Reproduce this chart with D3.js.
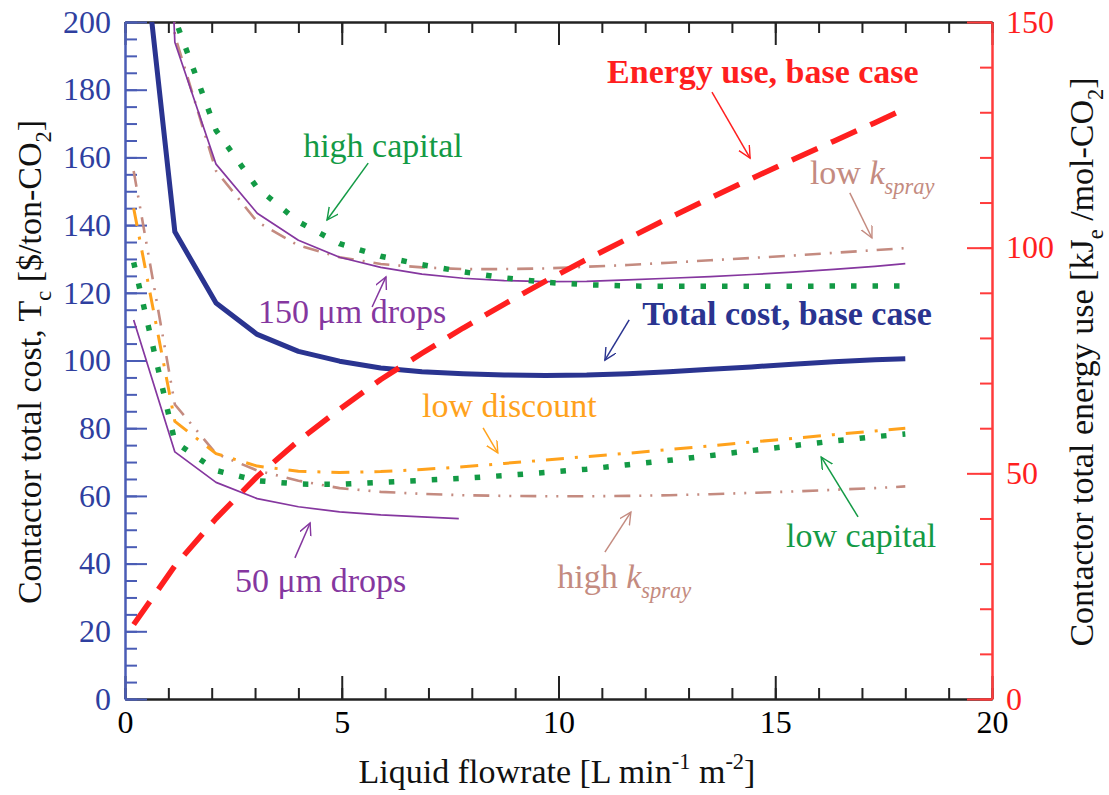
<!DOCTYPE html>
<html>
<head>
<meta charset="utf-8">
<script src="https://cdn.jsdelivr.net/npm/d3@7"></script>
<style>
  body { margin: 0; background: #fff; }
  svg text { font-family: "Liberation Serif", "Tinos", "DejaVu Serif", "Noto Serif", "Times New Roman", serif !important; white-space: pre; }
</style>
</head>
<body>
<script>
// ************** data *************************************
// liquid flowrate grid [L min-1 m-2]
var flow = [0.2, 1.15, 2.1, 3.05, 4.0, 4.95, 5.9, 6.85, 7.8, 8.75, 9.7, 10.65, 11.6, 12.55, 13.5, 14.45, 15.4, 16.35, 17.3, 18.0];
var flowSmall = [0.2, 1.15, 2.1, 3.05, 4.0, 4.95, 5.9, 6.85, 7.7];

// total cost [$/ton-CO2]
var baseCost    = [249, 138, 117, 107.7, 102.7, 99.8, 97.8, 96.7, 96.1, 95.7, 95.6, 95.7, 96.1, 96.7, 97.4, 98.1, 98.9, 99.6, 100.2, 100.5];
var drops150    = [480, 194, 158, 143.5, 135.5, 130.5, 127.5, 125.5, 124.3, 123.6, 123.3, 123.4, 123.8, 124.3, 124.8, 125.4, 126.1, 126.9, 127.8, 128.6];
var lowKspray   = [470, 196, 156, 141, 134, 130.5, 128.5, 127.5, 127, 127, 127.2, 127.7, 128.2, 128.9, 129.6, 130.3, 131, 131.8, 132.6, 133.2];
var highCapital = [490, 201, 168, 151, 141, 134.5, 130.8, 128.3, 126.2, 124.4, 123.1, 122.4, 122, 121.9, 121.9, 121.9, 121.9, 122, 122, 122];
var lowDiscount = [145, 82, 72.5, 68.8, 67.3, 66.9, 67.2, 67.8, 68.6, 69.6, 70.6, 71.6, 72.6, 73.7, 74.8, 75.9, 77, 78.1, 79.2, 80];
var lowCapital  = [129, 76, 67.5, 64.5, 63.5, 63.4, 64, 64.6, 65.2, 66, 66.9, 67.9, 69.2, 70.5, 71.9, 73.4, 74.8, 76.2, 77.5, 78.3];
var highKspray  = [156, 87, 72.5, 67.5, 64.5, 62.3, 61.2, 60.6, 60.2, 60, 59.9, 59.9, 60, 60.2, 60.5, 60.9, 61.3, 61.8, 62.3, 62.8];
var drops50     = [112, 73, 64, 59.2, 56.8, 55.3, 54.4, 53.8, 53.3];

// energy use [kJe/mol-CO2], right axis
var energy = [16.5, 29.5, 40, 49.3, 57.2, 64.2, 70.8, 76.6, 82.2, 87.5, 92.6, 97.4, 102, 106.6, 111, 115.3, 119.5, 123.6, 127.7, 130.8];

// axis ticks
var xTicks = [0, 5, 10, 15, 20];
var leftTicks = [0, 20, 40, 60, 80, 100, 120, 140, 160, 180, 200];
var rightTicks = [0, 50, 100, 150];

// ************** chart *****************
var W = 1109, H = 795;
var box = {left: 125, right: 992, top: 22, bottom: 699};
var SERIF = '"Liberation Serif", "Tinos", "DejaVu Serif", "Noto Serif", "Times New Roman", serif';

var x = d3.scaleLinear().domain([0, 20]).range([box.left, box.right]);
var yL = d3.scaleLinear().domain([0, 200]).range([box.bottom, box.top]);
var yR = d3.scaleLinear().domain([0, 150]).range([box.bottom, box.top]);

var svg = d3.select("body").append("svg")
    .attr("width", W)
    .attr("height", H)
    .attr("font-family", SERIF);

svg.append("defs").append("clipPath").attr("id", "plot")
  .append("rect")
    .attr("x", box.left).attr("y", box.top)
    .attr("width", box.right - box.left)
    .attr("height", box.bottom - box.top);

var FS = 32;      // tick labels
var TITLE = 34;   // axis titles
var NOTE = 34;    // annotations
var BLUE = "#2a3490", RED = "#ff1f1f", PURPLE = "#85379f",
    GREEN = "#139a45", ORANGE = "#ffa21c", ROSY = "#c48b80";

// style the axis groups
function styleAxis(g, color, labelColor) {
  g.attr("font-family", SERIF).attr("font-size", FS);
  g.select(".domain").attr("stroke", color).attr("stroke-width", 2);
  g.selectAll(".tick line").attr("stroke", color).attr("stroke-width", 2);
  g.selectAll(".tick text").attr("fill", labelColor);
}

// bottom + top axes (black, inward ticks)
var gxMinor = svg.append("g")
    .attr("transform", "translate(0," + box.bottom + ")")
    .call(d3.axisBottom(x).ticks(20).tickSize(-11).tickSizeOuter(0).tickFormat(""));
styleAxis(gxMinor, "#222", "#000");
var gx = svg.append("g")
    .attr("transform", "translate(0," + box.bottom + ")")
    .call(d3.axisBottom(x).tickValues(xTicks).tickSize(-23).tickSizeOuter(0).tickPadding(11));
styleAxis(gx, "#222", "#000");

var gtMinor = svg.append("g")
    .attr("transform", "translate(0," + box.top + ")")
    .call(d3.axisTop(x).ticks(20).tickSize(-11).tickSizeOuter(0).tickFormat(""));
styleAxis(gtMinor, "#222", "#000");
var gt = svg.append("g")
    .attr("transform", "translate(0," + box.top + ")")
    .call(d3.axisTop(x).tickValues(xTicks).tickSize(-23).tickSizeOuter(0).tickFormat(""));
styleAxis(gt, "#222", "#000");

// left axis (blue)
var glMinor = svg.append("g")
    .attr("transform", "translate(" + box.left + ",0)")
    .call(d3.axisLeft(yL).ticks(40).tickSize(-12).tickSizeOuter(0).tickFormat(""));
styleAxis(glMinor, "#4a5cb5", BLUE);
var gl = svg.append("g")
    .attr("transform", "translate(" + box.left + ",0)")
    .call(d3.axisLeft(yL).tickValues(leftTicks).tickSize(-22).tickSizeOuter(0).tickPadding(14));
styleAxis(gl, "#4a5cb5", "#2f3f9f");

// right axis (red)
var grMinor = svg.append("g")
    .attr("transform", "translate(" + box.right + ",0)")
    .call(d3.axisRight(yR).ticks(15).tickSize(-12).tickSizeOuter(0).tickFormat(""));
styleAxis(grMinor, "#ff3b3b", RED);
var gr = svg.append("g")
    .attr("transform", "translate(" + box.right + ",0)")
    .call(d3.axisRight(yR).tickValues(rightTicks).tickSize(-25).tickSizeOuter(0).tickPadding(14));
styleAxis(gr, "#ff3b3b", RED);

// ************** series *****************
var series = [
  {xs: flow, ys: highKspray, color: ROSY, width: 2.6, dash: "16,9,2,9,2,9", scale: yL},
  {xs: flow, ys: lowKspray, color: ROSY, width: 2.6, dash: "16,9,2,9", scale: yL},
  {xs: flow, ys: drops150, color: PURPLE, width: 1.7, dash: null, scale: yL},
  {xs: flowSmall, ys: drops50, color: PURPLE, width: 1.7, dash: null, scale: yL},
  {xs: flow, ys: lowDiscount, color: ORANGE, width: 3, dash: "18,11,3,11", scale: yL},
  {xs: flow, ys: highCapital, color: GREEN, width: 5.5, dash: "5.5,16", scale: yL},
  {xs: flow, ys: lowCapital, color: GREEN, width: 5.5, dash: "5.5,16", scale: yL},
  {xs: flow, ys: baseCost, color: BLUE, width: 5, dash: null, scale: yL},
  {xs: flow, ys: energy, color: RED, width: 5.5, dash: "28,15", scale: yR}
];

var plot = svg.append("g").attr("clip-path", "url(#plot)");

series.forEach(function(s) {
  var line = d3.line()
      .x(function(d, i) { return x(s.xs[i]); })
      .y(function(d) { return s.scale(d); });
  plot.append("path")
      .datum(s.ys)
      .attr("fill", "none")
      .attr("stroke", s.color)
      .attr("stroke-width", s.width)
      .attr("stroke-dasharray", s.dash)
      .attr("stroke-linejoin", "round")
      .attr("d", line);
});

// ************** text helpers *****************
function rich(textSel, parts, fs) {
  var off = 0;
  parts.forEach(function(p) {
    var target = p.sub ? fs * 0.3 : (p.sup ? -fs * 0.42 : 0);
    textSel.append("tspan")
        .attr("dy", target - off)
        .style("font-size", (p.sub || p.sup) ? (fs * 0.66) + "px" : fs + "px")
        .style("font-style", p.it ? "italic" : null)
        .text(p.t);
    off = target;
  });
}

// ************** annotations (data coordinates, left axis) *****************
var notes = [
  {parts: [{t: "Energy use, base case"}], x: 11.12, y: 182, color: RED, bold: true, arrow: [13.54, 179.3, 14.42, 159.8]},
  {parts: [{t: "low "}, {t: "k", it: true}, {t: "spray", it: true, sub: true}], x: 15.8, y: 152.1, color: ROSY, arrow: [16.72, 149.5, 17.23, 136.2]},
  {parts: [{t: "high capital"}], x: 4.11, y: 160.1, color: GREEN, arrow: [5.61, 158.3, 4.66, 141.5]},
  {parts: [{t: "150 \u03bcm drops"}], x: 3.07, y: 111.1, color: PURPLE, arrow: [5.7, 115.8, 6.02, 124.7]},
  {parts: [{t: "Total cost, base case"}], x: 11.93, y: 110.5, color: BLUE, bold: true, arrow: [11.63, 112, 11.07, 100.1]},
  {parts: [{t: "low discount"}], x: 6.85, y: 83.3, color: ORANGE, arrow: [8.26, 80.1, 8.6, 72.7]},
  {parts: [{t: "low capital"}], x: 15.25, y: 44.9, color: GREEN, arrow: [16.91, 53.8, 16.06, 71.5]},
  {parts: [{t: "high "}, {t: "k", it: true}, {t: "spray", it: true, sub: true}], x: 9.97, y: 32.8, color: ROSY, arrow: [11.07, 43.4, 11.67, 55.2]},
  {parts: [{t: "50 \u03bcm drops"}], x: 2.54, y: 31.6, color: PURPLE, arrow: [3.92, 41.7, 4.27, 52]}
];

var defs = svg.select("defs");
notes.forEach(function(n, i) {
  defs.append("marker")
      .attr("id", "arrow" + i)
      .attr("markerUnits", "userSpaceOnUse")
      .attr("markerWidth", 14).attr("markerHeight", 14)
      .attr("refX", 12).attr("refY", 6)
      .attr("orient", "auto")
    .append("path")
      .attr("d", "M0,0 L12,6 L0,12")
      .attr("fill", "none")
      .attr("stroke", n.color)
      .attr("stroke-width", 1.4);

  svg.append("line")
      .attr("x1", x(n.arrow[0])).attr("y1", yL(n.arrow[1]))
      .attr("x2", x(n.arrow[2])).attr("y2", yL(n.arrow[3]))
      .attr("stroke", n.color)
      .attr("stroke-width", 1.5)
      .attr("marker-end", "url(#arrow" + i + ")");

  var t = svg.append("text")
      .attr("x", x(n.x))
      .attr("y", yL(n.y))
      .attr("fill", n.color)
      .style("font-weight", n.bold ? "bold" : null);
  rich(t, n.parts, NOTE);
});

// ************** axis titles *****************
var xt = svg.append("text")
    .attr("x", 557).attr("y", 783)
    .attr("text-anchor", "middle")
    .attr("fill", "#111");
rich(xt, [{t: "Liquid flowrate [L min"}, {t: "-1", sup: true}, {t: " m"}, {t: "-2", sup: true}, {t: "]"}], TITLE);

var lt = svg.append("text")
    .attr("transform", "translate(41,362) rotate(-90)")
    .attr("text-anchor", "middle")
    .attr("fill", "#111");
rich(lt, [{t: "Contactor total cost, T"}, {t: "c", sub: true}, {t: " [$/ton-CO"}, {t: "2", sub: true}, {t: "]"}], TITLE);

var rt = svg.append("text")
    .attr("transform", "translate(1093,362) rotate(-90)")
    .attr("text-anchor", "middle")
    .attr("fill", "#111");
rich(rt, [{t: "Contactor total energy use [kJ"}, {t: "e", sub: true}, {t: " /mol-CO"}, {t: "2", sub: true}, {t: "]"}], TITLE);
</script>
</body>
</html>
